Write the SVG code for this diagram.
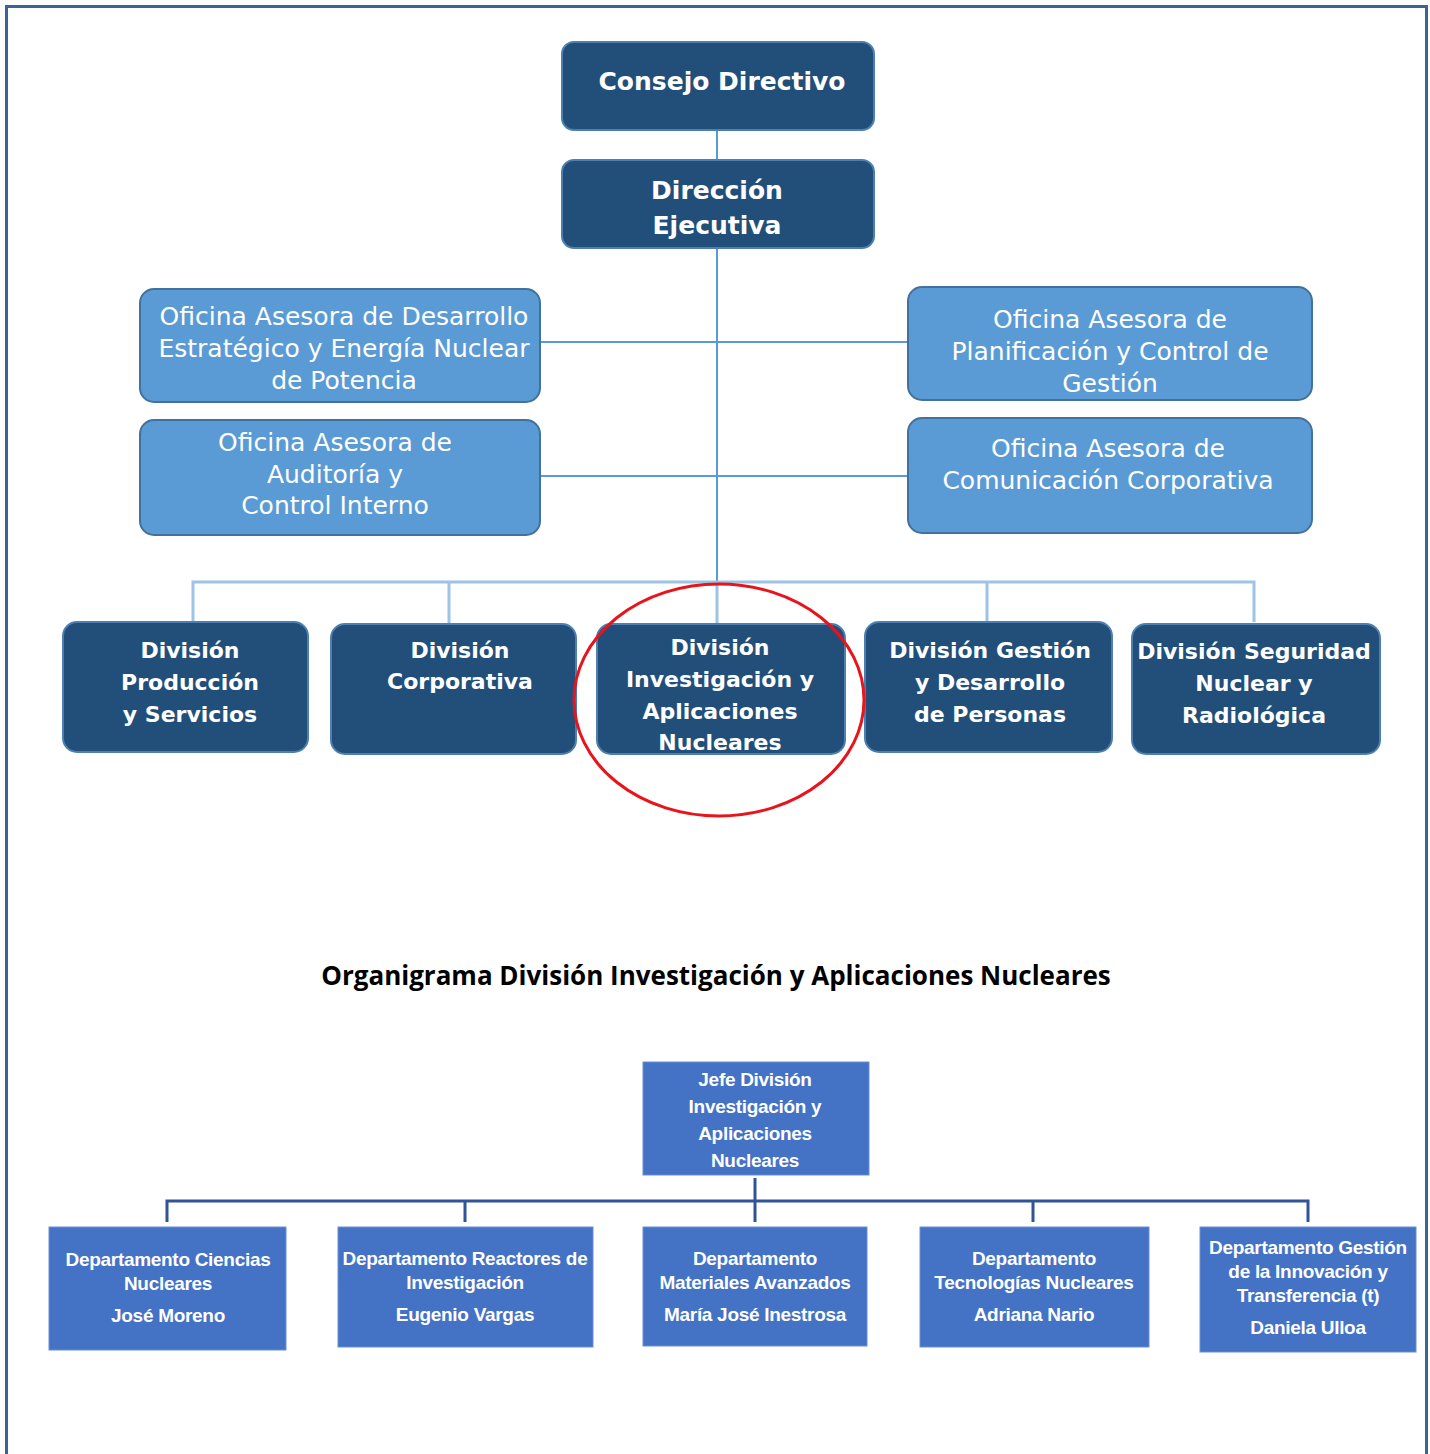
<svg xmlns="http://www.w3.org/2000/svg" width="1430" height="1454" viewBox="0 0 1430 1454">
<style>
.dark{fill:#224f7a;stroke:#4d7fb0;stroke-width:2}
.mid{fill:#5b9bd5;stroke:#41719c;stroke-width:2}
.dept{fill:#4472c4;stroke:#6a8fd4;stroke-width:1}
.tb{font-family:"DejaVu Sans","Liberation Sans",sans-serif;font-weight:bold;fill:#fff;text-anchor:middle}
.tn{font-family:"DejaVu Sans","Liberation Sans",sans-serif;fill:#fff;text-anchor:middle}
.tc{font-family:"Liberation Sans",sans-serif;font-weight:bold;fill:#fff;text-anchor:middle;font-size:19px;letter-spacing:-0.3px}
.c1{stroke:#5b9bd5;stroke-width:2;fill:none}
.c2{stroke:#9dc3e6;stroke-width:3;fill:none}
.c3{stroke:#2f5597;stroke-width:3;fill:none}
</style>
<rect width="1430" height="1454" fill="#fff"/>
<path d="M6.5,1454 V6.5 H1426.5 V1454" fill="none" stroke="#3a6496" stroke-width="3"/>
<g id="connectors">
<path class="c1" d="M717,130 V160 M717,248 V582 M540,342 H908 M540,476 H908"/>
<path class="c2" d="M193,622 V582 H1254 V622 M449,582 V624 M717,582 V624 M987,582 V622"/>
<path class="c3" d="M755,1178 V1222 M167,1222 V1201 H1308 V1222 M465,1201 V1222 M1033,1201 V1222"/>
</g>
<g id="consejo"><rect class="dark" x="562" y="42" width="312" height="88" rx="12"/>
<text class="tb" font-size="25" x="722" y="90">Consejo Directivo</text></g>
<g id="direccion"><rect class="dark" x="562" y="160" width="312" height="88" rx="12"/>
<text class="tb" font-size="25" x="717" y="199">Dirección</text><text class="tb" font-size="25" x="717" y="234">Ejecutiva</text></g>
<g id="of-desarrollo"><rect class="mid" x="140" y="289" width="400" height="113" rx="14"/>
<text class="tn" font-size="25"><tspan x="344" y="325">Oficina Asesora de Desarrollo</tspan><tspan x="344" y="357">Estratégico y Energía Nuclear</tspan><tspan x="344" y="389">de Potencia</tspan></text></g>
<g id="of-auditoria"><rect class="mid" x="140" y="420" width="400" height="115" rx="14"/>
<text class="tn" font-size="25"><tspan x="335" y="451">Oficina Asesora de</tspan><tspan x="335" y="483">Auditoría y</tspan><tspan x="335" y="514">Control Interno</tspan></text></g>
<g id="of-planificacion"><rect class="mid" x="908" y="287" width="404" height="113" rx="14"/>
<text class="tn" font-size="25"><tspan x="1110" y="328">Oficina Asesora de</tspan><tspan x="1110" y="360">Planificación y Control de</tspan><tspan x="1110" y="392">Gestión</tspan></text></g>
<g id="of-comunicacion"><rect class="mid" x="908" y="418" width="404" height="115" rx="14"/>
<text class="tn" font-size="25"><tspan x="1108" y="457">Oficina Asesora de</tspan><tspan x="1108" y="489">Comunicación Corporativa</tspan></text></g>
<g id="div-produccion"><rect class="dark" x="63" y="622" width="245" height="130" rx="14"/>
<text class="tb" font-size="22"><tspan x="190" y="658">División</tspan><tspan x="190" y="690">Producción</tspan><tspan x="190" y="722">y Servicios</tspan></text></g>
<g id="div-corporativa"><rect class="dark" x="331" y="624" width="245" height="130" rx="14"/>
<text class="tb" font-size="22"><tspan x="460" y="658">División</tspan><tspan x="460" y="689">Corporativa</tspan></text></g>
<g id="div-investigacion"><rect class="dark" x="597" y="624" width="248" height="130" rx="14"/>
<text class="tb" font-size="22"><tspan x="720" y="655">División</tspan><tspan x="720" y="687">Investigación y</tspan><tspan x="720" y="719">Aplicaciones</tspan><tspan x="720" y="750">Nucleares</tspan></text></g>
<g id="div-gestion"><rect class="dark" x="865" y="622" width="247" height="130" rx="14"/>
<text class="tb" font-size="22"><tspan x="990" y="658">División Gestión</tspan><tspan x="990" y="690">y Desarrollo</tspan><tspan x="990" y="722">de Personas</tspan></text></g>
<g id="div-seguridad"><rect class="dark" x="1132" y="624" width="248" height="130" rx="14"/>
<text class="tb" font-size="22"><tspan x="1254" y="659">División Seguridad</tspan><tspan x="1254" y="691">Nuclear y</tspan><tspan x="1254" y="723">Radiológica</tspan></text></g>
<ellipse id="highlight" cx="719" cy="700" rx="145" ry="116" fill="none" stroke="#e8141c" stroke-width="3"/>
<text id="title" x="716" y="985" font-family="'Open Sans','Liberation Sans',sans-serif" font-weight="bold" font-size="26" text-anchor="middle" fill="#000">Organigrama División Investigación y Aplicaciones Nucleares</text>
<g id="jefe"><rect class="dept" x="643" y="1062" width="226" height="113"/>
<text class="tc"><tspan x="755" y="1086">Jefe División</tspan><tspan x="755" y="1113">Investigación y</tspan><tspan x="755" y="1140">Aplicaciones</tspan><tspan x="755" y="1167">Nucleares</tspan></text></g>
<g id="dep-ciencias"><rect class="dept" x="49" y="1227" width="237" height="123"/>
<text class="tc"><tspan x="168" y="1266">Departamento Ciencias</tspan><tspan x="168" y="1290">Nucleares</tspan><tspan x="168" y="1322">José Moreno</tspan></text></g>
<g id="dep-reactores"><rect class="dept" x="338" y="1227" width="255" height="120"/>
<text class="tc"><tspan x="465" y="1265">Departamento Reactores de</tspan><tspan x="465" y="1289">Investigación</tspan><tspan x="465" y="1321">Eugenio Vargas</tspan></text></g>
<g id="dep-materiales"><rect class="dept" x="643" y="1227" width="224" height="119"/>
<text class="tc"><tspan x="755" y="1265">Departamento</tspan><tspan x="755" y="1289">Materiales Avanzados</tspan><tspan x="755" y="1321">María José Inestrosa</tspan></text></g>
<g id="dep-tecnologias"><rect class="dept" x="920" y="1227" width="229" height="120"/>
<text class="tc"><tspan x="1034" y="1265">Departamento</tspan><tspan x="1034" y="1289">Tecnologías Nucleares</tspan><tspan x="1034" y="1321">Adriana Nario</tspan></text></g>
<g id="dep-innovacion"><rect class="dept" x="1200" y="1227" width="216" height="125"/>
<text class="tc"><tspan x="1308" y="1254">Departamento Gestión</tspan><tspan x="1308" y="1278">de la Innovación y</tspan><tspan x="1308" y="1302">Transferencia (t)</tspan><tspan x="1308" y="1334">Daniela Ulloa</tspan></text></g>
</svg>
